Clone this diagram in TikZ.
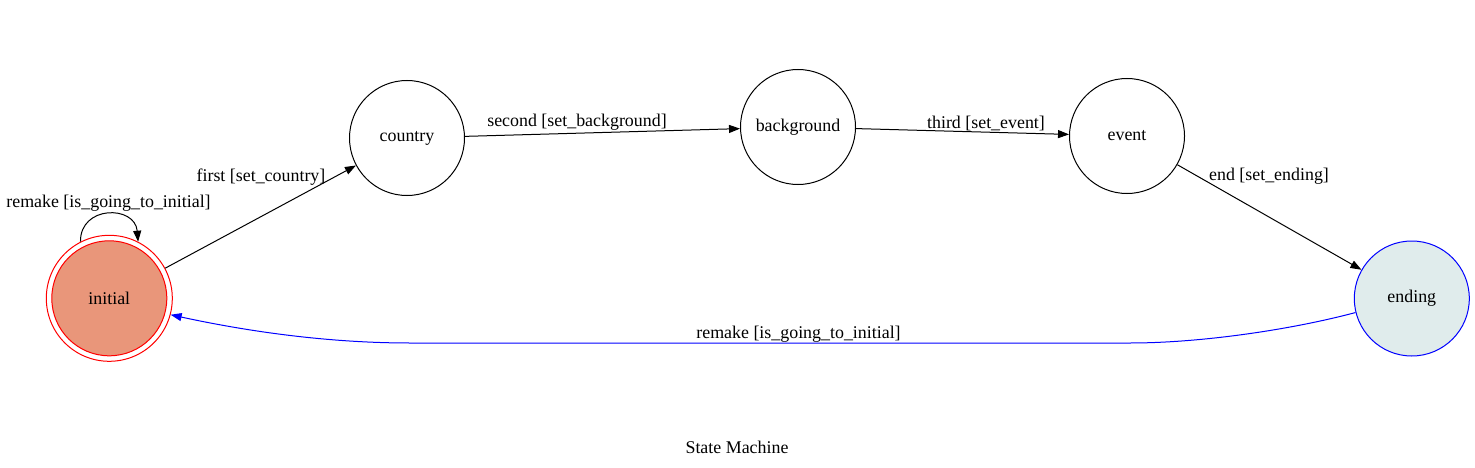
\documentclass[tikz,border=0pt]{standalone}
\usepackage{fontspec}
\setmainfont{Liberation Serif}
\usetikzlibrary{arrows.meta}
\definecolor{salmonfill}{RGB}{233,150,122}
\definecolor{endfill}{RGB}{224,236,236}
\begin{document}
\begin{tikzpicture}[x=1pt,y=-1pt,
  every node/.style={font=\fontsize{17.9}{21}\selectfont, inner sep=0pt},
  state/.style={circle, draw=black, line width=1pt, minimum size=115pt},
  lbl/.style={anchor=center},
  edge/.style={line width=1pt, -{Triangle[length=11pt,width=8pt]}}]
\useasboundingbox[fill=white] (0,0) rectangle (1475,468);
\node[circle, draw=red, line width=1pt, fill=white, minimum size=126pt] (initial) at (109.3,298.3) {};
\node[circle, draw=red, line width=1pt, fill=salmonfill, minimum size=115pt] (initialin) at (initial.center) {initial};
\node[state] (country) at (407,138) {country};
\node[state] (background) at (798,127) {background};
\node[state] (event) at (1127,136) {event};
\node[state, draw=blue, fill=endfill] (ending) at (1411.8,298.5) {ending};

\draw[edge] (initial) -- (country);
\draw[edge] (country) -- (background);
\draw[edge] (background) -- (event);
\draw[edge] (event) -- (ending);
\draw[edge] (initial.117) .. controls (80,205) and (135,205) .. (initial.63);
\draw[edge, draw=blue, -{Triangle[length=11pt,width=8pt,fill=blue]}, blue]
  (ending.194) .. controls (1290,330) and (1200,343) .. (1130,343)
  -- (410,343) .. controls (330,343) and (250,332) .. (initial.345);

\node[lbl] (l1) at (261,177.5) {first [set\_country]};
\node[lbl] (l2) at (577,122) {second [set\_background]};
\node[lbl] (l3) at (986,123) {third [set\_event]};
\node[lbl] (l4) at (1269,176) {end [set\_ending]};
\node[lbl] (l5) at (108.5,203) {remake [is\_going\_to\_initial]};
\node[lbl] (l6) at (798.5,334) {remake [is\_going\_to\_initial]};
\node[lbl] (title) at (737,447) {State Machine};
\end{tikzpicture}
\end{document}
